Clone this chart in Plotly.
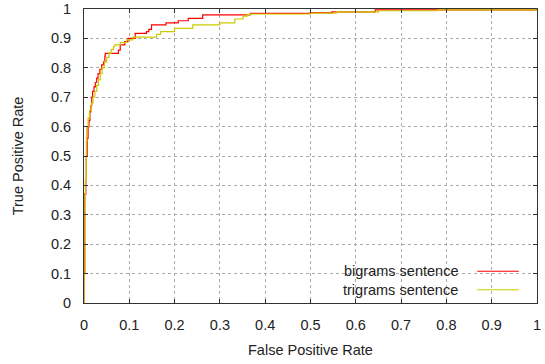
import plotly.graph_objects as go

# ---- data ----
series_names = ["bigrams sentence", "trigrams sentence"]
series_colors = ["#ff0000", "#cccc00"]

bigrams_fpr = [0.0, 0.0, 0.004, 0.005, 0.007, 0.009, 0.011, 0.013, 0.015, 0.017,
               0.019, 0.022, 0.025, 0.028, 0.031, 0.035, 0.039, 0.043, 0.046, 0.047,
               0.076, 0.080, 0.090, 0.097, 0.113, 0.138, 0.143, 0.149, 0.181, 0.208,
               0.230, 0.262, 0.367, 0.500, 0.547, 0.643, 1.0]
bigrams_tpr = [0.0, 0.37, 0.42, 0.50, 0.56, 0.60, 0.62, 0.65, 0.67, 0.70,
               0.72, 0.735, 0.75, 0.765, 0.78, 0.795, 0.81, 0.82, 0.84, 0.849,
               0.86, 0.878, 0.889, 0.90, 0.917, 0.923, 0.931, 0.946, 0.953, 0.96,
               0.968, 0.98, 0.985, 0.988, 0.99, 0.997, 1.0]

trigrams_fpr = [0.0, 0.0, 0.003, 0.005, 0.006, 0.009, 0.012, 0.016, 0.020, 0.024,
                0.028, 0.032, 0.036, 0.040, 0.045, 0.050, 0.055, 0.060, 0.065, 0.068,
                0.080, 0.094, 0.108, 0.160, 0.169, 0.200, 0.240, 0.300, 0.333, 0.351,
                0.360, 0.367, 0.500, 0.557, 0.650, 0.780, 1.0]
trigrams_tpr = [0.0, 0.10, 0.42, 0.55, 0.60, 0.63, 0.655, 0.68, 0.70, 0.72,
                0.74, 0.76, 0.78, 0.80, 0.82, 0.835, 0.85, 0.862, 0.872, 0.878,
                0.886, 0.895, 0.904, 0.914, 0.923, 0.934, 0.946, 0.953, 0.966, 0.976,
                0.981, 0.983, 0.986, 0.99, 0.994, 0.997, 1.0]

x_title = "False Positive Rate"
y_title = "True Positive Rate"

FONT = "Liberation Sans, Arial, sans-serif"
TXT = "#222222"
FS = 14.5

fig = go.Figure()
for fx, ty, name, col in [(bigrams_fpr, bigrams_tpr, series_names[0], series_colors[0]),
                          (trigrams_fpr, trigrams_tpr, series_names[1], series_colors[1])]:
    fig.add_trace(go.Scatter(x=fx, y=ty, mode="lines", name=name,
                             line=dict(color=col, width=1.2, shape="hv"),
                             showlegend=False))

axis_common = dict(
    range=[0, 1], dtick=0.1, tick0=0, automargin=False,
    showline=True, linecolor="#333333", linewidth=1, mirror="ticks",
    ticks="inside", ticklen=4, tickcolor="#333333", tickwidth=1,
    showgrid=True, gridcolor="#aaaaaa", gridwidth=1, griddash="dot",
    zeroline=False, ticklabelstandoff=9,
    tickfont=dict(family=FONT, size=FS, color=TXT),
)
fig.update_xaxes(**axis_common, title=None)
fig.update_yaxes(**axis_common, title=None)

# axis titles
fig.add_annotation(xref="paper", yref="paper", x=0.5, y=-0.16, text=x_title,
                   showarrow=False, xanchor="center", yanchor="middle",
                   font=dict(family=FONT, size=FS, color=TXT))
fig.add_annotation(xref="paper", yref="paper", x=-0.145, y=0.5, text=y_title, textangle=-90,
                   showarrow=False, xanchor="center", yanchor="middle",
                   font=dict(family=FONT, size=FS, color=TXT))

# legend (gnuplot style: text then sample, bottom-right, opaque box)
fig.add_shape(type="rect", xref="paper", yref="paper", x0=0.477, x1=0.998, y0=0.003, y1=0.143,
              fillcolor="white", line=dict(width=0), layer="between")
leg_y = [0.108, 0.045]
for i in range(2):
    fig.add_annotation(xref="paper", yref="paper", x=0.830, y=leg_y[i], text=series_names[i],
                       showarrow=False, xanchor="right", yanchor="middle",
                       font=dict(family=FONT, size=FS, color=TXT))
    fig.add_shape(type="line", xref="paper", yref="paper", x0=0.868, x1=0.960,
                  y0=leg_y[i], y1=leg_y[i], line=dict(color=series_colors[i], width=1.2))

fig.update_layout(
    width=545, height=364,
    margin=dict(l=84, r=8, t=9, b=61, autoexpand=False),
    paper_bgcolor="white", plot_bgcolor="white",
    font=dict(family=FONT, color=TXT),
)
fig.write_html("out.html", config={"displayModeBar": False},
               post_script="document.body.style.margin='0';document.body.style.overflow='hidden';")
